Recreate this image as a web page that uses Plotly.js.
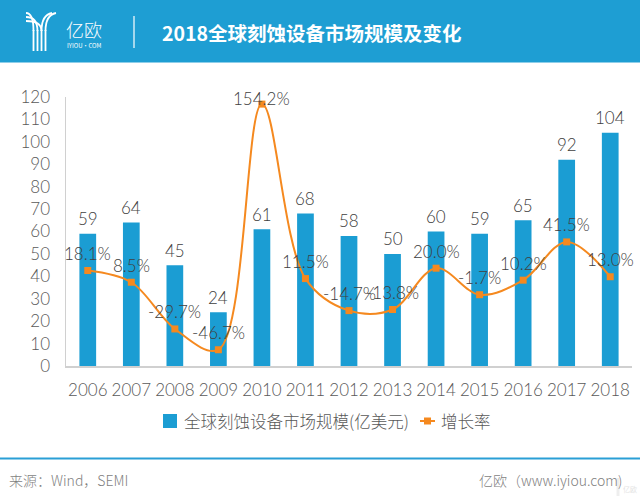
<!DOCTYPE html>
<html>
<head>
<meta charset="utf-8">
<script src="https://cdn.plot.ly/plotly-3.0.1.min.js"></script>
<style>
  html, body { margin: 0; padding: 0; background: #ffffff; }
  #chart { width: 640px; height: 501px; }
</style>
</head>
<body>
<div id="chart"></div>
<script>
// ---- data ----
const years = ['2006','2007','2008','2009','2010','2011','2012','2013','2014','2015','2016','2017','2018'];
const marketSize = [59, 64, 45, 24, 61, 68, 58, 50, 60, 59, 65, 92, 104];
const growthRate = [18.1, 8.5, -29.7, -46.7, 154.2, 11.5, -14.7, -13.8, 20.0, -1.7, 10.2, 41.5, 13.0];
const barName = '全球刻蚀设备市场规模(亿美元)';
const lineName = '增长率';
const titleText = '2018全球刻蚀设备市场规模及变化';
const sourceText = '来源：Wind，SEMI';
const siteText = '亿欧（www.iyiou.com)';

// ---- geometry helpers (paper coordinates from page pixels) ----
const W = 640, H = 501;
const M = { l: 66, r: 8, t: 97, b: 135 };
const PW = W - M.l - M.r, PH = H - M.t - M.b;
const px = x => (x - M.l) / PW;
const py = y => (H - M.b - y) / PH;

const FONT = '"Noto Sans CJK SC", "Noto Sans", sans-serif';
const NUMFONT = 'Lato, "Noto Sans CJK SC", sans-serif';
const BLUE = '#1e9ed3';
const BAR = '#1b9dd3';
const ORANGE = '#f5891f';

const traces = [
  {
    type: 'bar',
    name: barName,
    x: years,
    y: marketSize,
    marker: { color: BAR },
    yaxis: 'y',
    showlegend: false
  },
  {
    type: 'scatter',
    mode: 'lines+markers',
    name: lineName,
    x: years,
    y: growthRate,
    yaxis: 'y2',
    line: { color: ORANGE, width: 2, shape: 'spline', smoothing: 1 },
    marker: { color: ORANGE, symbol: 'square', size: 7 },
    cliponaxis: false,
    showlegend: false
  }
];

const annotations = [];
// bar value labels (x given as category index)
years.forEach((yr, i) => {
  annotations.push({
    x: i, y: marketSize[i], xref: 'x', yref: 'y',
    text: String(marketSize[i]), showarrow: false,
    yanchor: 'middle', yshift: 15,
    font: { family: NUMFONT, size: 17, color: '#404040', weight: 300 }
  });
});
// growth labels
years.forEach((yr, i) => {
  annotations.push({
    x: i, y: growthRate[i], xref: 'x', yref: 'y2',
    text: growthRate[i].toFixed(1) + '%', showarrow: false,
    yanchor: 'middle', yshift: growthRate[i] > 150 ? 6 : 17,
    font: { family: NUMFONT, size: 17, color: '#404040', weight: 300 }
  });
});
// header texts
annotations.push({
  xref: 'paper', yref: 'paper', x: px(160), y: py(33), xanchor: 'left', yanchor: 'middle',
  text: titleText, showarrow: false,
  font: { family: FONT, size: 19.5, color: '#ffffff', weight: 700 }
});
annotations.push({
  xref: 'paper', yref: 'paper', x: px(84), y: py(29), xanchor: 'center', yanchor: 'middle',
  text: '亿欧', showarrow: false,
  font: { family: FONT, size: 18, color: '#ffffff', weight: 300 }
});
annotations.push({
  xref: 'paper', yref: 'paper', x: px(84), y: py(45), xanchor: 'center', yanchor: 'middle',
  text: 'IYIOU·COM', showarrow: false, borderpad: 0,
  font: { family: FONT, size: 6, color: '#ffffff' }
});
// legend (drawn manually)
annotations.push({
  xref: 'paper', yref: 'paper', x: px(182), y: py(421), xanchor: 'left', yanchor: 'middle',
  text: barName, showarrow: false,
  font: { family: FONT, size: 16.5, color: '#595959', weight: 300 }
});
annotations.push({
  xref: 'paper', yref: 'paper', x: px(439), y: py(421), xanchor: 'left', yanchor: 'middle',
  text: lineName, showarrow: false,
  font: { family: FONT, size: 16.5, color: '#595959', weight: 300 }
});
// footer texts
annotations.push({
  xref: 'paper', yref: 'paper', x: px(7), y: py(480), xanchor: 'left', yanchor: 'middle',
  text: sourceText, showarrow: false,
  font: { family: FONT, size: 14, color: '#7f7f7f', weight: 300 }
});
annotations.push({
  xref: 'paper', yref: 'paper', x: px(624), y: py(480), xanchor: 'right', yanchor: 'middle',
  text: siteText, showarrow: false,
  font: { family: FONT, size: 14, color: '#7f7f7f', weight: 300 }
});
annotations.push({
  xref: 'paper', yref: 'paper', x: px(630), y: py(489), xanchor: 'center', yanchor: 'middle',
  text: '亿欧', showarrow: false,
  font: { family: FONT, size: 7, color: '#e4e4e4' }
});

const shapes = [
  // header band
  { type: 'rect', xref: 'paper', yref: 'paper', x0: px(0), x1: px(640), y0: py(0), y1: py(62.5),
    fillcolor: BLUE, line: { width: 0 }, layer: 'below' },
  // separator
  { type: 'line', xref: 'paper', yref: 'paper', x0: px(134), x1: px(134), y0: py(16), y1: py(48),
    line: { color: '#ffffff', width: 1.2 } },
  // legend symbols
  { type: 'rect', xref: 'paper', yref: 'paper', x0: px(163), x1: px(177), y0: py(414), y1: py(428),
    fillcolor: BAR, line: { width: 0 } },
  { type: 'line', xref: 'paper', yref: 'paper', x0: px(420), x1: px(435), y0: py(421), y1: py(421),
    line: { color: ORANGE, width: 2 } },
  { type: 'rect', xref: 'paper', yref: 'paper', x0: px(424), x1: px(431), y0: py(417.5), y1: py(424.5),
    fillcolor: ORANGE, line: { width: 0 } },
  // footer line
  { type: 'line', xref: 'paper', yref: 'paper', x0: px(0), x1: px(640), y0: py(458.5), y1: py(458.5),
    line: { color: '#2a9fd6', width: 2 } },
  // watermark bar
  { type: 'line', xref: 'paper', yref: 'paper', x0: px(618), x1: px(618), y0: py(478), y1: py(496),
    line: { color: '#eeeeee', width: 3 } }
];
// Y-shaped logo: stems + curved stripes
const stemX = [33.5, 37.5, 41.5, 45.5];
stemX.forEach((sx) => {
  shapes.push({ type: 'line', xref: 'paper', yref: 'paper', x0: px(sx), x1: px(sx), y0: py(30), y1: py(51),
    line: { color: '#ffffff', width: 1.8 } });
});
[[26, 13, 33.5], [26, 17, 37.5], [26, 21, 41.5]].forEach(([x0, y0, sx]) => {
  const d = 'M ' + px(x0) + ',' + py(y0) + ' Q ' + px(sx) + ',' + py(y0) + ' ' + px(sx) + ',' + py(31);
  shapes.push({ type: 'path', xref: 'paper', yref: 'paper', path: d,
    line: { color: '#ffffff', width: 1.8 } });
});
[[56, 13, 45.5], [52, 13, 41.5]].forEach(([x0, y0, sx]) => {
  const d = 'M ' + px(x0) + ',' + py(y0) + ' Q ' + px(sx) + ',' + py(y0 + 2) + ' ' + px(sx) + ',' + py(31);
  shapes.push({ type: 'path', xref: 'paper', yref: 'paper', path: d,
    line: { color: '#ffffff', width: 1.8 } });
});

const layout = {
  width: W, height: H,
  margin: M,
  paper_bgcolor: '#ffffff',
  plot_bgcolor: 'rgba(0,0,0,0)',
  font: { family: FONT, color: '#595959' },
  showlegend: false,
  bargap: 0.616,
  xaxis: {
    type: 'category',
    range: [-0.5, years.length - 0.5],
    autorange: false,
    showgrid: false,
    zeroline: false,
    showline: true,
    linecolor: '#d0d0d0',
    linewidth: 2,
    ticks: '',
    tickfont: { family: NUMFONT, size: 17, color: '#595959', weight: 300 },
    ticklabelstandoff: 8
  },
  yaxis: {
    range: [0, 120],
    autorange: false,
    dtick: 10,
    showgrid: false,
    zeroline: false,
    showline: true,
    linecolor: '#d0d0d0',
    linewidth: 1.5,
    ticks: '',
    tickfont: { family: NUMFONT, size: 17, color: '#595959', weight: 300 },
    ticklabelstandoff: 11
  },
  yaxis2: {
    overlaying: 'y',
    side: 'right',
    range: [-60, 160],
    autorange: false,
    visible: false,
    showgrid: false,
    zeroline: false
  },
  annotations: annotations,
  shapes: shapes
};

Plotly.newPlot('chart', traces, layout, { displayModeBar: false, staticPlot: true });
</script>
</body>
</html>
